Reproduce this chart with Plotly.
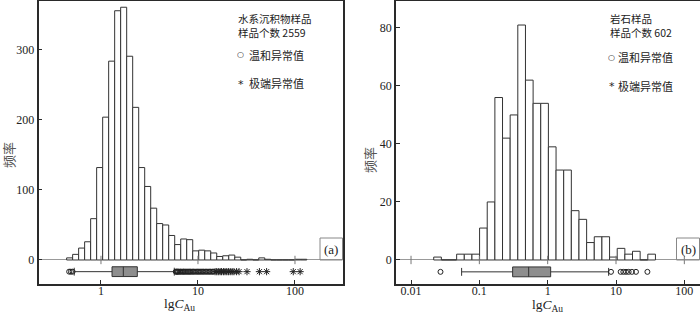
import numpy as np
import plotly.graph_objects as go

# ---------------- data ----------------
# Left panel: stream sediment samples (log10 bins)
left_bin_start = -0.354
left_bin_width = 0.0619
left_counts = [3, 8, 17, 26, 59, 132, 204, 284, 356, 361, 291, 218, 132, 105, 74,
               52, 50, 35, 22, 30, 29, 13, 14, 13, 10, 5, 6, 7, 4, 0, 1, 0, 3, 1,
               0, 0, 0, 0, 1, 1]
left_box = dict(lowerfence=0.53, q1=1.30, median=1.70, q3=2.37, upperfence=5.7)
left_mild = [0.47, 0.49, 0.51,
             5.9, 6.0, 6.1, 6.2, 6.3, 6.5, 6.6, 6.8, 7.0, 7.1, 7.3, 7.5, 7.7, 7.9,
             8.1, 8.3, 8.5, 8.8, 9.0, 9.3, 9.6, 9.9, 10.2, 10.5, 10.8, 11.2, 11.5,
             11.9, 12.3, 12.7, 13.1, 13.5, 14.0, 14.4]
left_extreme = [15.0, 15.6, 16.2, 16.9, 17.5, 18.3, 19.0, 19.8, 20.6, 21.5, 22.5,
                23.5, 25.0, 26.5, 32, 43, 51, 96, 113]

# Right panel: rock samples
right_bin_start = -1.668
right_bin_width = 0.1119
right_counts = [1, 0, 0, 2, 2, 2, 11, 20, 56, 42, 50, 81, 62, 54, 54, 39, 31, 31,
                17, 14, 6, 8, 8, 1, 4, 2, 3, 0, 2]
right_box = dict(lowerfence=0.055, q1=0.307, median=0.527, q3=1.106, upperfence=7.8)
right_mild = [0.027, 8.45, 11.7, 12.8, 14.0, 15.3, 17.1, 19.6, 28.8]

left_ticks = [1, 10, 100]
right_ticks = [0.01, 0.1, 1, 10, 100]
left_yticks = [0, 100, 200, 300]
right_yticks = [0, 20, 40, 60, 80]
left_box_pos = -16.7
right_box_pos = -4.1

# ---------------- figure ----------------
DARK = "#2a2a2a"
fig = go.Figure()


def add_panel(xa, ya, start, width, counts, box, box_pos, box_w, mild, extreme, ticks):
    centers = [start + width * (i + 0.5) for i in range(len(counts))]
    fig.add_trace(go.Bar(x=centers, y=counts, width=width, xaxis=xa, yaxis=ya,
                         marker=dict(color="white", line=dict(color="#333", width=1)),
                         showlegend=False, hoverinfo="skip"))
    fig.add_trace(go.Box(y=[box_pos], q1=[np.log10(box["q1"])],
                         median=[np.log10(box["median"])], q3=[np.log10(box["q3"])],
                         lowerfence=[np.log10(box["lowerfence"])],
                         upperfence=[np.log10(box["upperfence"])],
                         orientation="h", xaxis=xa, yaxis=ya, width=box_w,
                         whiskerwidth=0.8, boxpoints=False,
                         fillcolor="#8e8e8e", line=dict(color="#333", width=1),
                         showlegend=False, hoverinfo="skip"))
    if mild:
        fig.add_trace(go.Scatter(x=np.log10(mild), y=[box_pos] * len(mild), mode="markers",
                                 xaxis=xa, yaxis=ya,
                                 marker=dict(symbol="circle-open", size=5, color="#222",
                                             line=dict(color="#222", width=1)),
                                 showlegend=False, hoverinfo="skip"))
    if extreme:
        fig.add_trace(go.Scatter(x=np.log10(extreme), y=[box_pos] * len(extreme), mode="markers",
                                 xaxis=xa, yaxis=ya,
                                 marker=dict(symbol="asterisk-open", size=6, color="#222",
                                             line=dict(color="#222", width=1)),
                                 showlegend=False, hoverinfo="skip"))
    # small ticks on the zero line
    fig.add_trace(go.Scatter(x=np.log10(ticks), y=[0] * len(ticks), mode="markers",
                             xaxis=xa, yaxis=ya,
                             marker=dict(symbol="line-ns-open", size=6, color="#777",
                                         line=dict(color="#777", width=1)),
                             showlegend=False, hoverinfo="skip"))


add_panel("x", "y", left_bin_start, left_bin_width, left_counts, left_box,
          left_box_pos, 14, left_mild, left_extreme, left_ticks)
add_panel("x2", "y2", right_bin_start, right_bin_width, right_counts, right_box,
          right_box_pos, 3.4, right_mild, [], right_ticks)

axis_common = dict(showline=True, mirror=True, linecolor=DARK, linewidth=1.5,
                   showgrid=False, ticks="inside", ticklen=4, tickcolor=DARK,
                   tickfont=dict(family="Liberation Serif", size=12, color="#222"))
ydom = [0.0927, 0.997]
fig.update_layout(
    width=700, height=313, autosize=False,
    margin=dict(l=0, r=0, t=0, b=0),
    paper_bgcolor="white", plot_bgcolor="white",
    barmode="overlay",
    xaxis=dict(domain=[0.055, 0.4893], range=[-0.644, 2.490],
               tickvals=list(np.log10(left_ticks)), ticktext=[str(t) for t in left_ticks],
               zeroline=False, anchor="y", ticklabelstandoff=-5, **axis_common),
    yaxis=dict(domain=ydom, range=[-34.3, 370], tickvals=left_yticks,
               zeroline=True, zerolinecolor="#999", zerolinewidth=1, anchor="x", **axis_common),
    xaxis2=dict(domain=[0.5657, 0.9993], range=[-2.22, 2.222],
                tickvals=list(np.log10(right_ticks)), ticktext=["0.01", "0.1", "1", "10", "100"],
                zeroline=False, anchor="y2", ticklabelstandoff=-5, **axis_common),
    yaxis2=dict(domain=ydom, range=[-8.28, 89.3], tickvals=right_yticks,
                zeroline=True, zerolinecolor="#999", zerolinewidth=1, anchor="x2", **axis_common),
)

CJK = "Noto Sans CJK SC"
H = 313.0


def py(v):
    return (H - v) / H


def px(v):
    return v / 700.0


ann = []
def txt(x, y, s, size=11, family=CJK, color="#222", xanchor="left", angle=0):
    ann.append(dict(x=px(x), y=py(y), xref="paper", yref="paper", text=s, showarrow=False,
                    xanchor=xanchor, yanchor="middle", textangle=angle, align="left",
                    font=dict(family=family, size=size, color=color)))

# left legend texts
txt(236, 26, "水系沉积物样品<br>样品个数 2559", size=10.5)
txt(240.5, 55, "○", size=8, family="DejaVu Sans", xanchor="center")
txt(247, 55, "温和异常值")
txt(241, 84, "*", size=11, family="DejaVu Sans", xanchor="center")
txt(247, 83.5, "极端异常值")
# right legend texts
txt(608, 26, "岩石样品<br>样品个数 602", size=10.5)
txt(611.5, 57, "○", size=8, family="DejaVu Sans", xanchor="center")
txt(616, 57, "温和异常值")
txt(611.5, 87, "*", size=11, family="DejaVu Sans", xanchor="center")
txt(616, 86, "极端异常值")
# y titles
txt(8, 155, "频率", size=13, color="#555", xanchor="center", angle=-90)
txt(369, 160, "频率", size=13, color="#555", xanchor="center", angle=-90)
# x titles
txt(180, 304.5, "lg<i>C</i><sub>Au</sub>", size=13.5, family="Liberation Serif", xanchor="center")
txt(547, 305.5, "lg<i>C</i><sub>Au</sub>", size=13.5, family="Liberation Serif", xanchor="center")
# panel labels
txt(331, 249, "(a)", size=13, family="Liberation Serif", xanchor="center")
txt(688, 249, "(b)", size=13, family="Liberation Serif", xanchor="center")

fig.update_layout(annotations=ann)

fig.update_layout(shapes=[
    dict(type="rect", xref="paper", yref="paper", x0=px(320), x1=px(342.5), y0=py(260), y1=py(238),
         line=dict(color="#888", width=1)),
    dict(type="rect", xref="paper", yref="paper", x0=px(676.5), x1=px(699.5), y0=py(260), y1=py(238),
         line=dict(color="#888", width=1)),
])

fig.write_html("out.html", config={"displayModeBar": False},
               post_script="document.body.style.margin='0px';")
